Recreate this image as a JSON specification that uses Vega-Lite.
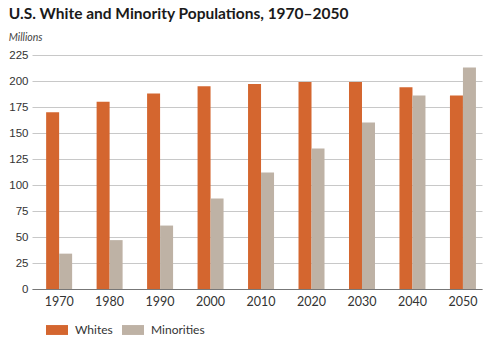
{
  "$schema": "https://vega.github.io/schema/vega-lite/v6.json",
  "autosize": {"type": "none"},
  "width": 450,
  "height": 234,
  "padding": {"left": 32, "top": 55, "right": 18, "bottom": 50},
  "background": "white",
  "title": {
    "text": "U.S. White and Minority Populations, 1970–2050",
    "subtitle": "Millions",
    "anchor": "start",
    "frame": "bounds",
    "offset": 6,
    "font": "Lato",
    "fontSize": 15.5,
    "fontWeight": "bold",
    "color": "#1a1a1a",
    "subtitleFont": "Lato",
    "subtitleFontSize": 10.5,
    "subtitleFontStyle": "italic",
    "subtitleColor": "#444",
    "subtitlePadding": 10
  },
  "data": {
    "values": [
      {"year": "1970", "group": "Whites", "value": 170},
      {"year": "1970", "group": "Minorities", "value": 34},
      {"year": "1980", "group": "Whites", "value": 180},
      {"year": "1980", "group": "Minorities", "value": 47},
      {"year": "1990", "group": "Whites", "value": 188},
      {"year": "1990", "group": "Minorities", "value": 61},
      {"year": "2000", "group": "Whites", "value": 195},
      {"year": "2000", "group": "Minorities", "value": 87},
      {"year": "2010", "group": "Whites", "value": 197},
      {"year": "2010", "group": "Minorities", "value": 112},
      {"year": "2020", "group": "Whites", "value": 199},
      {"year": "2020", "group": "Minorities", "value": 135},
      {"year": "2030", "group": "Whites", "value": 199},
      {"year": "2030", "group": "Minorities", "value": 160},
      {"year": "2040", "group": "Whites", "value": 194},
      {"year": "2040", "group": "Minorities", "value": 186},
      {"year": "2050", "group": "Whites", "value": 186},
      {"year": "2050", "group": "Minorities", "value": 213}
    ]
  },
  "mark": {"type": "bar"},
  "encoding": {
    "x": {
      "field": "year",
      "type": "nominal",
      "scale": {"paddingInner": 0.485, "paddingOuter": 0.2, "align": 0.7},
      "axis": {
        "title": null,
        "labelAngle": 0,
        "ticks": false,
        "domainColor": "#777",
        "domainWidth": 1.2,
        "labelFont": "Lato",
        "labelFontSize": 12.5,
        "labelColor": "#333",
        "labelPadding": 6,
        "grid": false
      }
    },
    "xOffset": {"field": "group", "type": "nominal", "sort": ["Whites", "Minorities"]},
    "y": {
      "field": "value",
      "type": "quantitative",
      "scale": {"domain": [0, 225], "nice": false},
      "axis": {
        "title": null,
        "values": [0, 25, 50, 75, 100, 125, 150, 175, 200, 225],
        "domain": false,
        "ticks": false,
        "labelFont": "Liberation Sans",
        "labelFontSize": 11.5,
        "labelColor": "#333",
        "labelPadding": 4,
        "gridColor": "#c8c8c8",
        "gridWidth": 1
      }
    },
    "color": {
      "field": "group",
      "type": "nominal",
      "sort": ["Whites", "Minorities"],
      "scale": {"domain": ["Whites", "Minorities"], "range": ["#D4662F", "#BEB2A5"]},
      "legend": {
        "title": null,
        "orient": "none",
        "direction": "horizontal",
        "legendX": 14,
        "legendY": 264,
        "symbolType": "M-1,-0.45H1V0.45H-1Z",
        "symbolSize": 484,
        "symbolStrokeWidth": 0,
        "symbolOpacity": 1,
        "labelFont": "Lato",
        "labelFontSize": 12,
        "labelColor": "#333",
        "labelOffset": 7,
        "columnPadding": 9
      }
    }
  },
  "config": {"view": {"stroke": null}}
}
